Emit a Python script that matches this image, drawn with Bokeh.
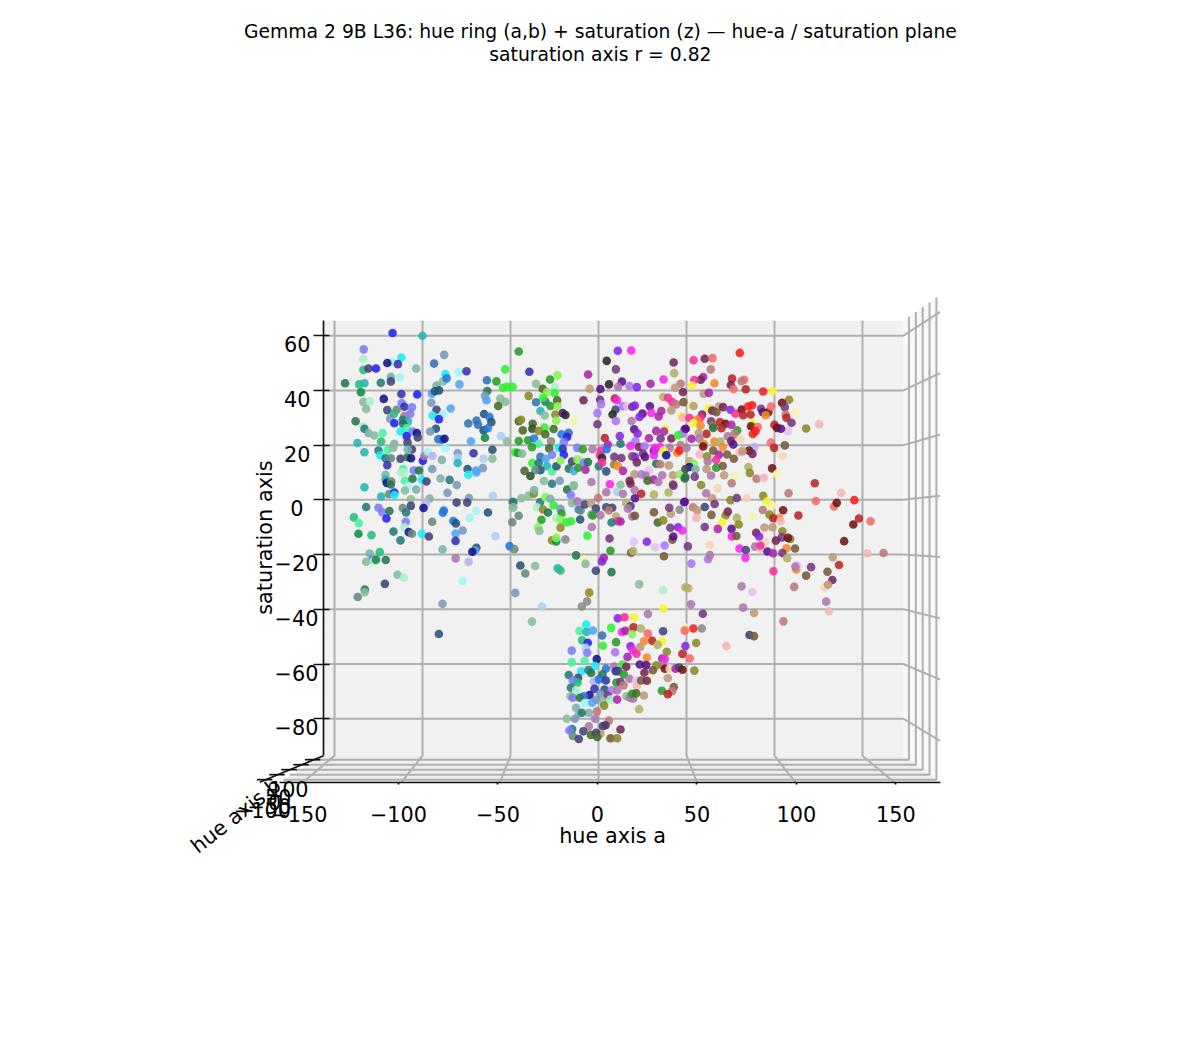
from bokeh.core.properties import value
from bokeh.embed import file_html
from bokeh.models import ColumnDataSource, FixedTicker, LinearAxis, Range1d
from bokeh.plotting import figure
from bokeh.resources import INLINE

title_lines = ["Gemma 2 9B L36: hue ring (a,b) + saturation (z) \u2014 hue-a / saturation plane",
               "saturation axis r = 0.82"]
hue_a_ticks = [-150, -100, -50, 0, 50, 100, 150]
hue_b_ticks = [-100, -50, 0, 50, 100]
saturation_ticks = [-80, -60, -40, -20, 0, 20, 40, 60]

palette = {
    "blu": "#2020f0", "nvy": "#12128a", "ind": "#3232b0", "slt": "#42427a", "per": "#7c7cf5", "lil": "#b8b0f0",
    "sky": "#50a6f5", "az": "#2278e0", "stb": "#3272b4", "dte": "#24547a", "lbl": "#a8d0f5", "gbl": "#7899bc",
    "cya": "#18eef5", "lcy": "#a0f5f5", "tea": "#26b4b4", "dtl": "#267a7a", "gtl": "#7ab2ac", "mnt": "#48f0a4",
    "lmn": "#a8f0c8", "sea": "#28bc7a", "grn": "#0e8c44", "dgn": "#26744e", "sag": "#8abc9a", "gry": "#688a7a",
    "lim": "#30f030", "lgn": "#8af058", "fgn": "#289c28", "ogn": "#486a28", "dol": "#325224", "olv": "#8a8a28",
    "yel": "#f5f530", "lyl": "#f5f5a8", "kha": "#b0b068", "red": "#f52020", "crm": "#b82626", "mar": "#701414",
    "sal": "#f56a6a", "pnk": "#f5b5b5", "rse": "#bc7a7a", "hot": "#f5309a", "mag": "#f526f0", "dmg": "#aa26aa",
    "pur": "#8426e0", "vio": "#aa78f0", "dpu": "#561088", "plu": "#763682", "mau": "#ac78ac", "lpu": "#e0c0f5",
    "brn": "#785a38", "tan": "#bc9a78", "org": "#f58a28", "peh": "#f5d5b5", "dgr": "#484848", "gra": "#8a8a8a",
    "wne": "#742656", "blk": "#282828",
}

# hue axis a, saturation axis, colour
upper_left_points = [
    (-117, 61, "blu"), (-100, 60, "tea"), (-133.4, 55, "per"), (-133.8, 51.5, "lmn"), (-112, 52, "cya"),
    (-117.5, 50.3, "lcy"), (-120, 50, "nvy"), (-114, 49.6, "ind"), (-133.6, 47.5, "sea"), (-130.7, 48, "slt"),
    (-126.4, 48, "blu"), (-103.6, 48, "gtl"), (-93.4, 49.8, "stb"), (-87.7, 53, "gbl"), (-88.4, 43.3, "sag"),
    (-87, 46, "cya"), (-86.3, 44.4, "az"), (-79.3, 46.7, "lcy"), (-75, 47, "ind"), (-118, 45, "gtl"),
    (-113, 44.7, "lcy"), (-144, 42.6, "dgn"), (-136, 42.2, "sea"), (-133, 42.6, "tea"), (-123.7, 42.8, "dtl"),
    (-118, 43.3, "slt"), (-79, 42.2, "sky"), (-92, 41.8, "gtl"), (-94.7, 38.8, "sky"), (-90.6, 40, "dte"),
    (-93, 39.7, "dte"), (-135, 39.3, "grn"), (-112, 38.7, "ind"), (-103, 38.5, "blu"), (-122, 36.9, "nvy"),
    (-133.6, 35.8, "sag"), (-129.8, 36, "lmn"), (-132, 33.2, "sag"), (-111.8, 35.4, "per"), (-110.3, 34, "ind"),
    (-106, 33.8, "per"), (-95, 35.5, "gbl"), (-92, 32.9, "slt"), (-84, 33.4, "sky"), (-120, 32.8, "slt"),
    (-114.7, 32.9, "gry"), (-107, 31.4, "per"), (-110.3, 30.6, "mau"), (-116.3, 31.4, "sea"), (-118.4, 29.6, "gbl"),
    (-116, 28, "blu"), (-111.2, 29.3, "dtl"), (-108.3, 28.6, "tea"), (-111, 27.8, "dgn"), (-94.3, 30.8, "cya"),
    (-88.4, 31.4, "lcy"), (-90.7, 29.5, "blu"), (-138, 28.7, "dgn"), (-133.6, 26.8, "lmn"), (-133, 26, "dtl"),
    (-130.7, 24.4, "gtl"), (-127.4, 23.5, "sag"), (-122.6, 24.4, "mnt"), (-109, 26.2, "mnt"), (-112.5, 25, "cya"),
    (-92.4, 26, "dte"), (-95.6, 25, "gbl"), (-105.5, 25, "per"), (-109, 23.3, "blu"), (-103.2, 24.4, "nvy"),
    (-102.7, 22.8, "slt"), (-108.5, 21, "slt"), (-91, 22.2, "stb"), (-89, 22, "az"), (-87.5, 22.3, "nvy"),
    (-74, 27.9, "stb"), (-69.3, 29, "stb"), (-68.5, 27.5, "stb"), (-65, 31.4, "dte"), (-62, 30.4, "az"),
    (-60.9, 28.4, "dte"), (-65.3, 25.4, "dte"), (-62.9, 26.2, "az"), (-64.5, 22.7, "grn"), (-72.5, 21.4, "sky"),
    (-55.4, 23.3, "lbl"), (-52, 21.4, "sag"), (-63.4, 43.7, "stb"), (-58, 43.3, "fgn"), (-53, 47.7, "lim"),
    (-54.3, 41, "lim"), (-52, 41.3, "lim"), (-48.8, 41.3, "lim"), (-63.2, 39.8, "dgn"), (-64.5, 38, "gbl"),
    (-63.6, 36.4, "sky"), (-55.8, 37, "sag"), (-53, 35.8, "sag"), (-57, 34.3, "ogn"), (-137, 20.8, "tea"),
    (-123.5, 21.3, "sea"), (-116, 20.5, "gtl"), (-133, 17.4, "tea"), (-125, 18, "dtl"), (-119.8, 18.2, "mnt"),
    (-116.6, 19, "sag"), (-124, 16.2, "cya"), (-121, 15.2, "dtl"), (-118, 15.2, "gry"), (-112.5, 15, "slt"),
    (-108.6, 15.6, "dgn"), (-106, 18.4, "slt"), (-108.4, 18.4, "gtl"), (-106.5, 15.2, "nvy"), (-99.8, 14.3, "blu"),
    (-99, 16, "mau"), (-97, 17.7, "lcy"), (-94.3, 16, "lil"), (-89, 14.6, "gtl"), (-87, 19, "lcy"),
    (-80, 17, "gbl"), (-80, 15.4, "lbl"), (-80, 13.5, "tea"), (-71, 17, "ind"), (-60.3, 18.3, "dte"),
    (-65.3, 15, "lbl"), (-60.3, 15, "sag"), (-120, 12.7, "ind"), (-94.5, 11.3, "gbl"), (-74.4, 11.3, "dte"),
    (-65.7, 11.6, "gbl"), (-69.6, 10.7, "sky"), (-111, 11.3, "mnt"), (-105, 10.7, "per"), (-102, 10.7, "dgn"),
    (-47.3, 17.4, "lim"),
]

lower_left_points = [
    (-121, 9.2, "gtl"), (-112.3, 10.1, "lmn"), (-110.4, 10.1, "lmn"), (-133, 4.6, "tea"), (-121, 7.4, "tea"),
    (-120.3, 6.2, "nvy"), (-117.8, 6.8, "gry"), (-118, 5.6, "dgn"), (-110, 7, "mnt"), (-105.7, 7.7, "dgn"),
    (-108.5, 4.9, "lcy"), (-103.6, 3.8, "gtl"), (-100.4, 7.4, "cya"), (-97.7, 6.7, "slt"), (-89.8, 7.8, "gtl"),
    (-84.6, 7.3, "dtl"), (-80.5, 5.4, "gbl"), (-74, 9.2, "cya"), (-69.4, 10, "sky"), (-85.8, 2.6, "gbl"),
    (-123.5, 1.2, "tea"), (-119, 2.1, "gry"), (-116, 2.7, "blu"), (-116, 1.8, "cya"), (-110, 3.4, "sag"),
    (-106.6, 0.2, "sag"), (-96, 0.5, "gtl"), (-73.6, 0.7, "gbl"), (-74.6, -1, "slt"), (-80.6, -1, "slt"),
    (-60, 1.5, "lbl"), (-48.8, -0.7, "gry"), (-48.8, -2.9, "sag"), (-132, -2.6, "dtl"), (-125, -2.9, "per"),
    (-122.8, -4.5, "per"), (-118.8, -4.1, "dgn"), (-111.2, -3, "gry"), (-109.3, -4.6, "dtl"), (-106.6, -2.2, "slt"),
    (-98, -1.1, "lil"), (-99.4, -3, "nvy"), (-87.9, -3.9, "az"), (-88.4, -4.7, "az"), (-62.8, -4.6, "dte"),
    (-69.6, -4.1, "lcy"), (-73.2, -6.6, "lcy"), (-139, -6.4, "sea"), (-136.2, -8.5, "mnt"), (-120.5, -6.8, "blu"),
    (-109.5, -8, "per"), (-94.5, -8, "gry"), (-82.5, -7.7, "az"), (-81, -8.6, "dte"), (-49, -8.2, "gry"),
    (-136.4, -12.4, "grn"), (-129, -12.9, "sea"), (-116.5, -11.6, "dtl"), (-110.4, -10, "lmn"), (-107.8, -11.8, "nvy"),
    (-106, -12.4, "gry"), (-112.5, -14.8, "dtl"), (-100.4, -12.4, "cya"), (-96.4, -13.4, "slt"), (-77.2, -11.2, "gbl"),
    (-81.2, -12.3, "sky"), (-81.2, -15, "ind"), (-58.6, -13.3, "lbl"), (-50.5, -16.9, "az"), (-47.8, -18, "gry"),
    (-88.6, -18.1, "gtl"), (-69.4, -17.5, "dte"), (-70, -18.5, "sky"), (-71.7, -19, "nvy"), (-81.2, -21.4, "mau"),
    (-73.8, -22.6, "lil"), (-130, -19.6, "gtl"), (-124.3, -19.1, "sea"), (-128.5, -21.8, "per"), (-132, -22.6, "sag"),
    (-127.7, -22.5, "lmn"), (-126.4, -21.9, "grn"), (-120.9, -22, "dgn"), (-114.2, -27.4, "sag"), (-110.6, -28.5, "lmn"),
    (-121.4, -30.7, "slt"), (-132.8, -32.8, "dgn"), (-132.8, -33.8, "sag"), (-136.8, -35.5, "gry"), (-77.2, -29.6, "lcy"),
    (-88.6, -38, "gbl"), (-90.7, -49, "dte"), (-47.3, -34, "gbl"),
]

upper_middle_points = [
    (-45.3, 54.2, "fgn"), (-39.3, 46.8, "ind"), (-27.5, 44, "fgn"), (-23.3, 45.5, "lgn"), (-35.5, 42.4, "sag"),
    (-31.7, 40.6, "ogn"), (-24.9, 41.2, "lmn"), (-24.9, 39, "lim"), (-29.2, 39.4, "lgn"), (-39.7, 38, "olv"),
    (-35.5, 35.7, "stb"), (-30.2, 35.9, "dtl"), (-31.5, 37.3, "lim"), (-23.5, 36.4, "ogn"), (-27.3, 34.3, "fgn"),
    (-23.2, 34.2, "lgn"), (-33, 32.5, "tea"), (-30.5, 30.8, "sag"), (-24.5, 31.2, "olv"), (-20.3, 31.7, "dpu"),
    (-18.8, 31, "blk"), (-14.2, 28.8, "lyl"), (-24, 29, "lgn"), (-45.3, 28.7, "ogn"), (-44, 29.3, "olv"),
    (-37.4, 27.8, "ogn"), (-37.6, 26, "dol"), (-43, 25.4, "ogn"), (-30.6, 26.4, "lim"), (-34, 25.2, "olv"),
    (-25.5, 25.9, "ogn"), (-30.2, 24, "ogn"), (-21, 24, "az"), (-17, 24.5, "stb"), (-17.8, 23, "blu"),
    (-45.3, 21.5, "fgn"), (-40, 21.8, "fgn"), (-36.6, 22.4, "az"), (-34, 20.5, "mnt"), (-37.8, 19.2, "fgn"),
    (-27, 21.4, "gra"), (-19.7, 21, "per"), (-28, 18.8, "ogn"), (-22.6, 19, "cya"), (-20.3, 18.7, "ind"),
    (-12.1, 19, "per"), (-8.9, 18.5, "fgn"), (-19.7, 16.5, "blu"), (-26.4, 16.5, "per"), (-45.8, 17.1, "fgn"),
    (-43.4, 16.9, "sag"), (-37.6, 13.5, "lim"), (-33, 15.7, "stb"), (-30, 15, "sky"), (-29.2, 12.3, "tea"),
    (-34, 13.5, "dtl"), (-26.4, 10.4, "mnt"), (-33, 10.8, "dte"), (-35.9, 10.8, "gry"), (-42, 10.6, "ogn"),
    (-38.7, 8.7, "dol"), (-31, 6.9, "sag"), (-26.4, 5.9, "dtl"), (-22, 7, "gbl"), (-23.9, 12.3, "dte"),
    (-21.6, 14.4, "lgn"), (-16.8, 11.4, "dgn"), (-15, 14, "slt"), (-14, 10.6, "sky"), (-12, 14.8, "lgn"),
    (-11.5, 11.7, "fgn"), (-8.3, 13.6, "per"), (-6, 13.8, "dgn"), (-7.4, 11, "dmg"), (-4, 6.5, "mau"),
    (-14, 5.3, "sag"), (11, 54.5, "pur"), (18.6, 54.6, "mag"), (4.7, 50.8, "blk"), (42.7, 50.2, "wne"),
    (-5.9, 45.8, "dmg"), (9.9, 47.7, "plu"), (43, 46.3, "kha"), (6, 42.2, "blk"), (13.3, 43.2, "dpu"),
    (11.2, 41.3, "mau"), (17.6, 41.6, "vio"), (21.8, 41.2, "pur"), (29.6, 42.4, "dmg"), (37, 44, "mag"),
    (1.1, 40.5, "dpu"), (-5, 40.6, "tan"), (-8.5, 36.4, "wne"), (0.9, 36.6, "plu"), (1.5, 35, "vio"),
    (9.3, 37, "crm"), (10.6, 36.4, "mag"), (9.7, 33, "slt"), (13.9, 34.2, "vio"), (16.3, 34.2, "lpu"),
    (19.2, 34, "plu"), (20.7, 34.5, "pur"), (29.2, 34.2, "dpu"), (36.8, 37.6, "kha"), (39.5, 37.3, "hot"),
    (42, 35.7, "hot"), (44.2, 34.9, "rse"), (46.7, 42.4, "rse"), (43.5, 41, "tan"), (48, 39.4, "wne"),
    (48.3, 35.7, "brn"), (-0.6, 31.7, "vio"), (8, 31.2, "blk"), (9.9, 28.8, "vio"), (-0.6, 27.6, "plu"),
    (25, 31.5, "dpu"), (23.3, 30.3, "pur"), (18.8, 28.8, "mau"), (30, 31.8, "mag"), (35.7, 32.5, "dmg"),
    (34.2, 30.5, "dmg"), (41.4, 32.7, "tan"), (47.3, 30.5, "yel"), (48, 30, "pnk"), (20.3, 25.8, "dpu"),
    (22.2, 24.2, "pur"), (32.8, 25.2, "dmg"), (37.8, 26, "yel"), (37.2, 25, "dmg"), (49, 25.8, "dpu"),
    (47.6, 24.2, "vio"), (35.3, 22.4, "plu"), (41.4, 22.4, "wne"), (45.2, 23.6, "lim"), (28.7, 22.5, "dmg"),
    (3.6, 22.6, "crm"), (12.1, 23.3, "pur"), (5.3, 20.2, "dmg"), (12.5, 20.5, "dtl"), (21, 21.4, "vio"),
    (18.2, 19.7, "mag"), (23, 19.3, "wne"), (26.2, 19.6, "vio"), (31.5, 18, "dpu"), (35, 19.3, "mag"),
    (32, 19, "mag"), (40.4, 19, "mau"), (46.7, 20, "rse"), (-3.4, 18.5, "mau"), (1.5, 18, "hot"),
    (4.6, 18.5, "az"), (0.8, 16.3, "hot"), (2, 15.4, "blk"), (9, 15.7, "plu"), (13, 15.3, "plu"),
    (19.2, 15.9, "brn"), (20.7, 15.7, "pur"), (25.3, 16.9, "plu"), (26.4, 15.7, "dpu"), (31.5, 16.3, "mag"),
    (37, 18, "yel"), (38.5, 16.3, "nvy"), (44.7, 17.2, "org"), (46, 18, "red"), (0.2, 12.3, "dtl"),
    (2, 13.6, "hot"), (8.9, 12.9, "olv"), (11, 12.4, "org"), (21.8, 13.7, "wne"), (13.9, 10.6, "dmg"),
    (4.4, 10.4, "dte"), (20.5, 9.3, "tan"), (17.7, 7, "wne"), (24.4, 9.3, "vio"), (28.7, 10.8, "lpu"),
    (26.8, 8.9, "mau"), (32.8, 13.2, "dgn"), (35.1, 13, "rse"), (40, 12.6, "tan"), (36.2, 9, "mau"),
    (42.3, 9, "tan"), (46.3, 9.3, "lgn"), (49, 7.8, "ogn"), (31.3, 7.4, "dmg"), (27.9, 7, "ogn"),
    (42.3, 5.6, "brn"), (34, 6.5, "mau"), (6.5, 5.7, "mag"), (12.5, 5.5, "sag"), (18.2, 5.9, "wne"),
]

lower_middle_points = [
    (-43.8, 0.6, "sag"), (-39.7, 1.6, "sag"), (-36.8, 2.2, "olv"), (-36.6, 3.6, "gtl"), (-48.4, -0.9, "dtl"),
    (-48.4, -2.7, "sag"), (-45.3, -5.8, "gry"), (-33.2, -0.9, "dtl"), (-30.2, 1, "lgn"), (-27.4, 0.4, "gtl"),
    (-17.8, 3.8, "dgn"), (-14.2, 5, "sag"), (-15.7, 1.8, "per"), (-34.9, -2.7, "lmn"), (-31.5, -3.5, "olv"),
    (-28.7, -4.6, "dgn"), (-25.5, -2, "lim"), (-21.6, -3.3, "gbl"), (-21, -5, "fgn"), (-32.4, -7.3, "fgn"),
    (-24, -6.7, "lmn"), (-21.6, -7.3, "lgn"), (-18.2, -8.2, "lim"), (-15.6, -7.8, "lim"), (-21.6, -10.2, "olv"),
    (-34.3, -10, "lgn"), (-33.6, -11.4, "sag"), (-10.4, -7.2, "dte"), (-15, -1.2, "sag"), (-12.1, -0.5, "mau"),
    (-11.2, -3.5, "az"), (-10.2, -3.9, "gry"), (-7.8, -1.7, "slt"), (-4.2, -1.2, "tan"), (-1.5, -3.2, "slt"),
    (-4, -5.4, "gbl"), (-3.2, -5.7, "fgn"), (1.1, -5.6, "mau"), (-0.2, 0.7, "rse"), (-3.8, -9.9, "mau"),
    (-6.3, -13.1, "lim"), (-26.4, -14.8, "olv"), (-24, -15.2, "grn"), (-24, -13.9, "lgn"), (-18.8, -14.5, "gra"),
    (6.3, -14.1, "plu"), (4.4, 2.8, "mau"), (10.6, 3, "lbl"), (13.9, 2.2, "mau"), (20.5, 3.6, "mau"),
    (24.3, 2.2, "crm"), (20.7, 0.6, "dpu"), (31.5, 1.9, "kha"), (39.8, 2.7, "kha"), (42.6, 5.2, "plu"),
    (4.4, -2.7, "slt"), (7.8, -2.9, "slt"), (5.9, -3.9, "rse"), (15.7, -1.1, "kha"), (18.2, -2.3, "slt"),
    (16.7, -3.2, "mau"), (10, -6.1, "kha"), (11, -7.8, "hot"), (12.5, -7.9, "dmg"), (7.4, -8.3, "dtl"),
    (19.2, -6.1, "mau"), (20.7, -5.8, "brn"), (31.5, -4.5, "brn"), (33.7, -8.3, "ogn"), (36.8, -7.5, "olv"),
    (41.1, -5.1, "tan"), (40.2, -2.9, "plu"), (46.1, -3.6, "gra"), (48.6, -0.9, "pur"), (40.8, -10.2, "plu"),
    (45.2, -10, "pur"), (47.6, -11.2, "mag"), (42, -14.6, "brn"), (42.5, -13.4, "dpu"), (27.5, -15.3, "pur"),
    (20.1, -15.3, "lpu"), (32.3, -17.3, "lpu"), (37.6, -16.7, "vio"), (18.6, -19.3, "brn"), (19.7, -18.7, "kha"),
    (37.2, -20.6, "brn"), (6.8, -18.6, "fgn"), (3, -21.2, "dmg"), (2, -22.5, "pur"), (-7.8, -21.8, "lyl"),
    (-7.4, -23.4, "sag"), (-12.7, -20.3, "dgn"), (-1.5, -25.9, "slt"), (7.4, -26.4, "dgn"), (-44.4, -24, "dte"),
    (-36, -24.2, "sag"), (-41.6, -26.9, "gry"), (-23.2, -25, "tea"), (-21.6, -25.8, "sea"), (23.1, -30.9, "sag"),
    (36.8, -33, "lmn"), (-5.3, -33.9, "olv"), (-6.5, -37.1, "gra"), (-9.5, -39, "gra"), (-32.1, -39, "lbl"),
    (36.8, -39.7, "yel"), (-37.8, -44.5, "sag"), (28.1, -41.7, "mau"), (49.5, -32, "kha"),
]

upper_right_points = [
    (80.3, 53.7, "red"), (54, 51, "hot"), (60.4, 51.6, "wne"), (64.8, 51.8, "sal"), (63.8, 47.7, "rse"),
    (59.5, 44.9, "dmg"), (58.1, 43.9, "wne"), (54.4, 43.8, "hot"), (65.9, 42.6, "org"), (75.9, 44.3, "crm"),
    (82.8, 43.9, "sal"), (81.3, 43.4, "rse"), (75.2, 42, "wne"), (76.7, 40.5, "sal"), (83.7, 40.4, "crm"),
    (53.2, 41.8, "yel"), (59.8, 38.8, "tan"), (62.7, 39.1, "dmg"), (93.6, 39.6, "red"), (99, 39.8, "yel"),
    (108.3, 36.6, "olv"), (104.3, 35.5, "mar"), (105.9, 33.9, "plu"), (53, 34.8, "lyl"), (54, 34.3, "tan"),
    (62.7, 33.4, "yel"), (68.4, 34.1, "tan"), (70.8, 33.9, "wne"), (64.6, 32.6, "wne"), (67, 32, "brn"),
    (75, 32.9, "pur"), (77.8, 31.5, "hot"), (81.4, 33, "mar"), (85, 34.1, "red"), (87.3, 34.6, "red"),
    (82.2, 30.9, "crm"), (86.4, 31.2, "crm"), (92.4, 33.3, "plu"), (93.4, 32, "dpu"), (96.5, 32, "mar"),
    (95, 30.9, "org"), (98.1, 34.1, "sal"), (106.4, 31.2, "rse"), (106.8, 30, "crm"), (112, 32, "lyl"),
    (109.7, 28.2, "plu"), (125.4, 27.6, "pnk"), (118, 26.1, "olv"), (107.6, 25.1, "lpu"), (100, 27.4, "crm"),
    (101.5, 26.3, "mar"), (103.7, 26, "dpu"), (58.9, 31.2, "wne"), (58, 30, "hot"), (51.7, 29.9, "hot"),
    (56, 29.3, "org"), (53.9, 28, "yel"), (58, 27.2, "org"), (64, 28.7, "plu"), (65, 27.2, "olv"),
    (69, 28.4, "crm"), (72.2, 27.8, "mar"), (69.9, 26.2, "crm"), (65.2, 26.3, "dgn"), (75.5, 27.4, "dmg"),
    (87.3, 28, "yel"), (86.7, 26.9, "mar"), (90.5, 26.6, "sal"), (89.2, 25.1, "red"), (87.7, 24.1, "red"),
    (78.8, 25.4, "fgn"), (77.3, 24.1, "rse"), (49.6, 26, "dpu"), (61.4, 24.1, "crm"), (57, 24.4, "tan"),
    (57.4, 22.3, "mau"), (52.9, 22.3, "dmg"), (65.9, 21.3, "org"), (69.3, 21.3, "kha"), (73.5, 23.2, "mau"),
    (80.7, 22.2, "peh"), (75.4, 21.5, "wne"), (76.6, 20.2, "dpu"), (70.6, 19.3, "org"), (59.8, 20.5, "org"),
    (59.5, 19.5, "mar"), (50, 19, "mau"), (98, 20.9, "sal"), (99.8, 19, "crm"), (105.9, 19.9, "brn"),
    (88.7, 19.3, "lil"), (85.6, 18, "mar"), (87.5, 16.8, "wne"), (80.3, 17.4, "pnk"), (81.9, 17.8, "tan"),
    (65.2, 18, "brn"), (73.1, 16.6, "brn"), (68.4, 16.5, "dmg"), (57.6, 16.6, "pnk"), (61.7, 15.9, "olv"),
    (66.9, 14.6, "hot"), (76.9, 15, "brn"), (104.7, 16, "peh"), (62.1, 14.1, "mau"), (51.7, 14.1, "kha"),
    (54.2, 13.2, "lgn"), (51.7, 12, "nvy"), (55.1, 11.2, "gtl"), (49.4, 11.3, "dgr"), (61.4, 11.3, "tan"),
    (66.9, 11.7, "fgn"), (70.6, 12.4, "brn"), (85.2, 12, "kha"), (86, 9.8, "olv"), (98.7, 11.5, "mar"),
    (101.5, 9.5, "lyl"), (54.7, 8.5, "plu"), (64, 8.9, "mau"), (71.4, 9, "tan"), (77.3, 8.5, "lyl"),
    (89.8, 7.7, "rse"), (93.9, 8, "pnk"), (49.4, 8.3, "dgn"),
]

lower_right_points = [
    (58.3, 5.4, "olv"), (67.8, 4.3, "peh"), (75.7, 6.1, "rse"), (122.9, 6.1, "crm"), (61.2, 2.4, "mau"),
    (64.6, 0.6, "tan"), (75, -0.1, "olv"), (78.6, 0.7, "plu"), (84.1, 0.6, "peh"), (93.6, 1.5, "olv"),
    (108, 2.4, "rse"), (137.9, 2.6, "pnk"), (49, -0.7, "dpu"), (53.7, -2.7, "rse"), (60.4, -2.6, "slt"),
    (66, -1.5, "plu"), (56.1, -3.9, "tan"), (55.7, -6.6, "pnk"), (64.2, -5.5, "brn"), (72.2, -5.7, "olv"),
    (73.5, -4.3, "wne"), (78.6, -6.6, "kha"), (87.9, -6, "lyl"), (70.4, -8.2, "yel"), (79.7, -9, "olv"),
    (95.8, -0.6, "yel"), (98.7, -2.2, "lyl"), (93.4, -3.7, "rse"), (97.2, -5.4, "olv"), (102.7, -6.7, "org"),
    (99.3, -6.7, "crm"), (103.4, -7.8, "pnk"), (104.9, -3.8, "mar"), (113.6, -5.7, "crm"), (123.5, -0.4, "sal"),
    (133.9, -2.4, "sal"), (135.4, -1.1, "mar"), (145.4, -0.1, "red"), (148, -6.8, "crm"), (144.8, -9, "mar"),
    (154.6, -7.8, "sal"), (60.4, -9.9, "plu"), (67.8, -10.6, "dmg"), (75.6, -10.6, "dpu"), (75.8, -13.4, "mag"),
    (78.4, -13.2, "brn"), (89.6, -12, "wne"), (91.3, -13.4, "pur"), (94.3, -10.1, "tan"), (98.9, -10, "tan"),
    (104.5, -11.5, "olv"), (109, -14.3, "olv"), (104.2, -13.7, "plu"), (107.7, -13.9, "mar"), (100.8, -14.9, "wne"),
    (94.7, -15.6, "peh"), (89, -17.1, "mau"), (92, -17.8, "pnk"), (92, -16.7, "hot"), (106.8, -17.7, "org"),
    (111.7, -17.8, "brn"), (139.6, -15.1, "mar"), (50.8, -17, "plu"), (63.3, -16.5, "peh"), (80.1, -17.8, "mag"),
    (83.7, -18.3, "slt"), (96, -18.9, "dpu"), (99.2, -19.5, "dmg"), (104.5, -19.4, "plu"), (107.2, -21.3, "kha"),
    (83.5, -21.2, "mag"), (62.3, -21.7, "vio"), (63.3, -20.2, "mau"), (52.8, -23.3, "vio"), (133.1, -21, "tan"),
    (152.8, -19.5, "pnk"), (162, -19.4, "rse"), (136.7, -23.8, "crm"), (120.8, -24.6, "plu"), (112.4, -25.4, "org"),
    (112.8, -24, "lpu"), (111.9, -24.4, "mau"), (99.4, -26.1, "hot"), (130.1, -26.3, "brn"), (118, -27.7, "brn"),
    (132.9, -29.3, "wne"), (128.5, -32, "peh"), (130.4, -31, "tan"), (111.2, -31.8, "rse"), (81.3, -31.6, "mau"),
    (87.5, -33.7, "lpu"), (51, -32.3, "kha"), (52.6, -38.2, "mau"), (129.4, -37.2, "mau"), (130.9, -40.7, "pnk"),
    (82.2, -39.4, "mau"), (88.4, -41.3, "tan"), (59.3, -41.6, "plu"), (105.1, -44.4, "rse"), (85.8, -49.4, "slt"),
    (88.4, -49.8, "brn"), (49, -46.6, "lyl"), (49, -47.8, "sal"), (53.9, -47, "red"), (58.7, -47, "gra"),
]

bottom_cluster_points = [
    (11, -43.3, "pur"), (14.8, -42.9, "hot"), (20.3, -42.9, "yel"), (-7, -45.6, "cya"), (-10.8, -47.9, "mnt"),
    (-6.8, -48.3, "tea"), (-3.2, -47.8, "sky"), (7.2, -46.8, "lim"), (13.4, -48.3, "mag"), (15.3, -47.9, "dmg"),
    (19.9, -46.6, "crm"), (24.1, -47, "kha"), (19.1, -49.1, "lgn"), (28, -48.9, "sal"), (36.7, -48, "slt"),
    (2.1, -49.6, "stb"), (-9.3, -51.3, "sea"), (-6.1, -52.2, "blu"), (10, -52, "fgn"), (30.5, -51.5, "crm"),
    (25.9, -51.7, "org"), (36.2, -51.8, "yel"), (33.6, -53, "kha"), (2.5, -53.3, "lim"), (-7.2, -54.1, "lbl"),
    (-6.4, -55.9, "per"), (-15.2, -55.1, "per"), (18.2, -53.5, "pur"), (19.5, -55, "mag"), (21.6, -56.2, "hot"),
    (23.7, -53.8, "tan"), (9.5, -55.7, "vio"), (16.5, -57.4, "dmg"), (38.8, -55.5, "olv"), (49.4, -53.4, "pur"),
    (55.5, -52.3, "olv"), (47.7, -56.3, "crm"), (51.9, -58, "sal"), (72.7, -53.4, "pnk"), (27.5, -57.6, "org"),
    (-15.2, -59.3, "mnt"), (-7.8, -58.8, "mnt"), (-1, -58.2, "nvy"), (-2.1, -60.7, "cya"), (4.2, -61.7, "az"),
    (8.9, -60.9, "mau"), (13.7, -60.2, "lim"), (15.8, -61, "wne"), (36.2, -58, "dmg"), (37.7, -58.2, "mag"),
    (36.6, -60.5, "mau"), (23.5, -60.2, "dpu"), (27.1, -60.4, "dpu"), (33, -60.5, "olv"), (37.7, -61.7, "mar"),
    (40.5, -61.7, "peh"), (43.8, -61.7, "dmg"), (45.9, -61.3, "slt"), (47.7, -62.1, "mar"), (54.5, -62.4, "olv"),
    (30.9, -62.3, "brn"), (26.1, -63.2, "wne"), (-9.8, -62.7, "cya"), (-5.7, -62.2, "dtl"), (-4.2, -63.3, "dgn"),
    (2.3, -63.8, "dgn"), (9.8, -62.6, "ind"), (11.2, -62.6, "slt"), (14.4, -63.8, "fgn"), (-16.9, -64, "dtl"),
    (-11.6, -65, "slt"), (-14.6, -66, "per"), (-11.9, -66.8, "sea"), (-15.7, -68.7, "dtl"), (-2.7, -66.5, "lil"),
    (0.2, -65.6, "az"), (4.2, -66, "ind"), (10.2, -66.8, "fgn"), (12.5, -66.6, "plu"), (14.2, -67.8, "rse"),
    (17.6, -65.4, "mau"), (21.4, -66, "lpu"), (21.8, -68, "pnk"), (24.2, -66, "brn"), (28.6, -65.6, "lyl"),
    (27.5, -66.1, "wne"), (39.4, -65.1, "tan"), (42.8, -68.4, "brn"), (36, -69.8, "fgn"), (41.9, -69.9, "rse"),
    (39.4, -71, "crm"), (25.8, -71.5, "tan"), (-2.3, -69.1, "ind"), (3.4, -69.3, "dte"), (1.1, -70.9, "gbl"),
    (7.4, -69.6, "vio"), (10.6, -69.6, "mau"), (5.3, -71.6, "plu"), (-12.7, -69.6, "lmn"), (-5.1, -71.3, "nvy"),
    (-8.3, -71.8, "az"), (-15.9, -71.8, "sag"), (-14.6, -72.3, "per"), (-10.6, -72.3, "dgn"), (-7.8, -74.3, "lcy"),
    (-3.6, -74.1, "sky"), (-1.1, -73, "gbl"), (2.8, -73.7, "sag"), (3.2, -75.2, "olv"), (6.8, -73, "lmn"),
    (10.6, -73, "dmg"), (15.9, -71.8, "sag"), (17.8, -72.3, "mau"), (19.7, -72.7, "mau"), (19.1, -70.9, "fgn"),
    (21.4, -70.7, "ogn"), (23.1, -76.5, "kha"), (-12.7, -76, "gtl"), (-11.2, -78.2, "sag"), (-5.5, -77.8, "gtl"),
    (-9.5, -77.8, "dtl"), (-0.9, -77.3, "rse"), (-18, -80, "sag"), (-13.4, -80, "gbl"), (-1.9, -80, "mau"),
    (5.9, -80.7, "rse"), (4, -82.4, "wne"), (2.5, -82.7, "slt"), (12.5, -83.9, "wne"), (-5.5, -82.8, "mau"),
    (-15, -83.8, "dtl"), (-16.5, -84.3, "per"), (-8.6, -84.6, "slt"), (-14.6, -86.3, "gry"), (-11.2, -87.4, "slt"),
    (1.1, -85.5, "tan"), (-4.3, -85.9, "ogn"), (-1.3, -85.1, "slt"), (-0.7, -86.7, "ogn"), (6.8, -87.1, "brn"),
    (10.6, -87.1, "olv"),
]

# box of the 3d view, in hue a / saturation units on the back wall
wall_left, wall_right = -156.25, 173.3
wall_bottom, wall_top = -93.5, 65.5
vanish_saturation = -12.4
front_scale = 1.12


def depth_scale(hue_b):
    return 1.063 - 0.00045 * hue_b


def project(a, saturation, scale):
    return a * scale, vanish_saturation + (saturation - vanish_saturation) * scale


def minus_labels(ticks):
    return {t: str(t).replace("-", "\u2212") for t in ticks}


points = (upper_left_points + lower_left_points + upper_middle_points + lower_middle_points
          + upper_right_points + lower_right_points + bottom_cluster_points)
source = ColumnDataSource(data=dict(
    a=[row[0] for row in points],
    saturation=[row[1] for row in points],
    colour=[palette[row[2]] for row in points],
))

p = figure(width=1184, height=1034, output_backend="svg", toolbar_location=None, min_border=0,
           x_range=Range1d(-339.8, 333), y_range=Range1d(-195.4, 182.5),
           x_axis_location=None, y_axis_location=None, outline_line_color=None)
p.grid.visible = False
p.extra_x_ranges["front"] = Range1d(-300, 295)
p.extra_y_ranges["labels"] = Range1d(-195.4 + 3.14, 182.5 + 3.14)

# panes
corner_x, corner_y = zip(project(wall_right, wall_top, 1), project(wall_right, wall_top, front_scale),
                         project(wall_right, wall_bottom, front_scale), project(wall_right, wall_bottom, 1))
p.patch(list(corner_x), list(corner_y), fill_color="#f8f8f8", line_color=None)
floor_x, floor_y = zip(project(wall_left, wall_bottom, 1), project(wall_right, wall_bottom, 1),
                       project(wall_right, wall_bottom, front_scale), project(wall_left * 1.035, wall_bottom, front_scale))
p.patch(list(floor_x), list(floor_y), fill_color="#eeeeee", line_color=None)
p.quad(left=[wall_left], right=[wall_right], top=[wall_top], bottom=[wall_bottom], fill_color="#f1f1f1", line_color=None)

# grid lines
grid_xs, grid_ys = [], []
for s in saturation_ticks:
    end = project(wall_right, s, front_scale)
    grid_xs.append([wall_left, wall_right, end[0]])
    grid_ys.append([s, s, end[1]])
for a in hue_a_ticks:
    end = project(a, wall_bottom, front_scale)
    grid_xs.append([a, a, end[0]])
    grid_ys.append([wall_top, wall_bottom, end[1]])
for b in hue_b_ticks:
    k = depth_scale(b)
    left = project(wall_left * 1.035, wall_bottom, k)
    right = project(wall_right, wall_bottom, k)
    top = project(wall_right, wall_top, k)
    grid_xs.append([left[0], right[0], top[0]])
    grid_ys.append([left[1], right[1], top[1]])
p.multi_line(grid_xs, grid_ys, line_color="#b0b0b0", line_width=2)

p.scatter(x="a", y="saturation", size=8.6, color="colour", alpha=0.88, line_color=None, source=source)

# hue axis b runs into the picture, so it has no Bokeh axis of its own
b_start = project(wall_left, wall_bottom, 1)
b_end = project(wall_left * 1.1, wall_bottom, front_scale)
p.line([b_start[0], b_end[0]], [b_start[1], b_end[1]], line_color="#111111", line_width=1.67)
tick_xs, tick_ys = [], []
for b in hue_b_ticks:
    k = depth_scale(b)
    x, y = project(wall_left * (1 + 0.1 * (k - 1) / (front_scale - 1)), wall_bottom, k)
    tick_xs.append([x - 5.4, x + 3.4])
    tick_ys.append([y, y])
p.multi_line(tick_xs, tick_ys, line_color="#111111", line_width=1.67)
p.text(x=[-176, -182, -184, -187, -191], y=[-105.5, -108.5, -110.3, -112, -113.5],
       text=["100", "50", "0", "\u221250", "\u2212100"], text_font=value("DejaVu Sans"), text_font_size="20.8px",
       text_align="center", text_baseline="middle", text_color="#000000")

saturation_axis = LinearAxis(fixed_location=wall_left, ticker=FixedTicker(ticks=saturation_ticks),
                             bounds=(wall_bottom, wall_top), major_tick_in=6, major_tick_out=10,
                             major_tick_line_width=1.67, axis_line_width=1.67, major_tick_line_color="#111111",
                             axis_line_color="#111111", minor_tick_line_color=None,
                             major_label_overrides={t: "" for t in saturation_ticks})
p.add_layout(saturation_axis, "left")
# the reference centres these labels, so each label width gets its own standoff
for group, standoff in (([20, 40, 60], 13), ([0], 20), ([-20, -40, -60, -80], 5)):
    saturation_labels = LinearAxis(fixed_location=wall_left, y_range_name="labels", ticker=FixedTicker(ticks=group),
                                   major_tick_line_color=None, minor_tick_line_color=None, axis_line_color=None,
                                   major_tick_out=0, major_tick_in=0, major_label_standoff=standoff,
                                   major_label_overrides=minus_labels(group),
                                   major_label_text_font="DejaVu Sans", major_label_text_font_size="20.8px",
                                   major_label_text_color="#000000")
    p.add_layout(saturation_labels, "left")
hue_axis = LinearAxis(fixed_location=wall_bottom + (vanish_saturation - wall_bottom) * (1 - front_scale),
                      x_range_name="front", ticker=FixedTicker(ticks=hue_a_ticks), bounds=(-160, 172.4),
                      major_tick_in=0, major_tick_out=2, major_tick_line_width=1.67, axis_line_width=1.67,
                      major_tick_line_color="#111111", axis_line_color="#111111", minor_tick_line_color=None,
                      major_label_standoff=22, major_label_overrides=minus_labels(hue_a_ticks),
                      major_label_text_font="DejaVu Sans", major_label_text_font_size="20.8px",
                      major_label_text_color="#000000")
p.add_layout(hue_axis, "below")

text_style = dict(text_font=value("DejaVu Sans"), text_align="center", text_baseline="middle", text_color="#000000")
p.text(x=[1.1, 1.1], y=[171.1, 162.7], text=title_lines, text_font_size="18.75px", **text_style)
p.text(x=[8], y=[-123], text=["hue axis a"], text_font_size="20.8px", **text_style)
p.text(x=[-189.5], y=[-13.8], text=["saturation axis"], angle=[90], angle_units="deg", text_font_size="20.8px", **text_style)
p.text(x=[-206], y=[-115.4], text=["hue axis b"], angle=[38], angle_units="deg", text_font_size="20.8px", **text_style)

open("out.html", "w").write(file_html(p, INLINE))
